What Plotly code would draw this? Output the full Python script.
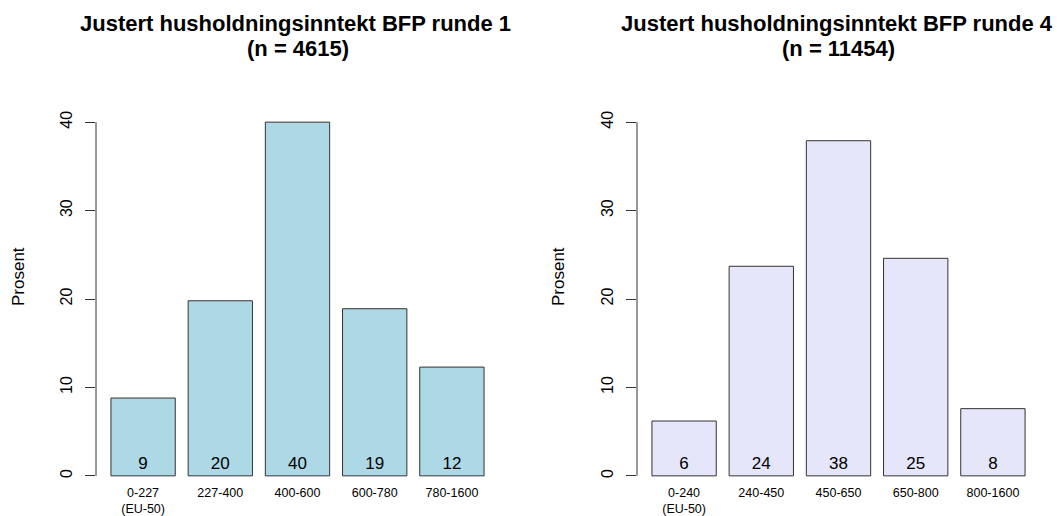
import plotly.graph_objects as go

# ---- data ----
cats_r1 = ["0-227<br>(EU-50)", "227-400", "400-600", "600-780", "780-1600"]
vals_r1 = [8.8, 19.8, 40.0, 18.9, 12.3]
cats_r4 = ["0-240<br>(EU-50)", "240-450", "450-650", "650-800", "800-1600"]
vals_r4 = [6.2, 23.7, 37.9, 24.6, 7.6]
title_r1 = ["Justert husholdningsinntekt BFP runde 1", "(n = 4615)"]
title_r4 = ["Justert husholdningsinntekt BFP runde 4", "(n = 11454)"]
y_ticks = [0, 10, 20, 30, 40]
y_label = "Prosent"

W, H = 1057, 516
FONT = "Liberation Sans, Arial, Helvetica, sans-serif"

fig = go.Figure()

def add_panel(cats, vals, color, xa, ya):
    fig.add_trace(go.Bar(
        x=cats, y=vals,
        marker=dict(color=color, line=dict(color="#333333", width=1)),
        text=[str(int(round(v))) for v in vals],
        textposition="inside", insidetextanchor="start",
        textfont=dict(family=FONT, size=17, color="black"),
        constraintext="none",
        xaxis=xa, yaxis=ya, showlegend=False, hoverinfo="skip",
    ))

add_panel(cats_r1, vals_r1, "#ADD8E6", "x", "y")
add_panel(cats_r4, vals_r4, "#E6E6FA", "x2", "y2")

ydom = [1 - 490 / H, 1 - 108 / H]
xdom1 = [96 / W, 499 / W]
xdom2 = [637 / W, 1040 / W]

xcommon = dict(range=[-0.61, 4.61], showline=False, ticks="", showgrid=False,
               zeroline=False, tickfont=dict(family=FONT, size=12.5, color="black"),
               tickangle=0, fixedrange=True, automargin=False,
               ticklabelstandoff=-7)
ycommon = dict(range=[-1.6, 41.6], domain=ydom, tickvals=y_ticks, ticks="outside",
               ticklen=10, tickcolor="#333333", tickwidth=1, showline=False,
               showgrid=False, zeroline=False, tickangle=-90, automargin=False,
               tickfont=dict(family=FONT, size=16, color="black"),
               ticklabelstandoff=7, fixedrange=True)

fig.update_layout(
    width=W, height=H, autosize=False,
    margin=dict(l=0, r=0, t=0, b=0),
    paper_bgcolor="white", plot_bgcolor="white",
    bargap=1 - 1 / 1.2,
    xaxis=dict(domain=xdom1, anchor="y", **xcommon),
    xaxis2=dict(domain=xdom2, anchor="y2", **xcommon),
    yaxis=dict(anchor="x", **ycommon),
    yaxis2=dict(anchor="x2", **ycommon),
    font=dict(family=FONT, color="black"),
)

# y-axis lines spanning only the tick range (as in base R)
for xr, yr in (("x domain", "y"), ("x2 domain", "y2")):
    fig.add_shape(type="line", xref=xr, yref=yr, x0=0, x1=0,
                  y0=min(y_ticks), y1=max(y_ticks),
                  line=dict(color="#333333", width=1))

# titles (two lines each) and y-axis labels
for lines, xd, ylab_x in ((title_r1, xdom1, 18), (title_r4, xdom2, 558)):
    for i, ln in enumerate(lines):
        fig.add_annotation(text="<b>" + ln + "</b>", xref="paper", yref="paper",
                           x=(xd[0] + xd[1]) / 2 - (2 / W if i == 0 else 0),
                           y=1 - (24 + 25 * i) / H,
                           yanchor="middle", xanchor="center", showarrow=False,
                           font=dict(family=FONT, size=22, color="black"))
    fig.add_annotation(text=y_label, xref="paper", yref="paper",
                       x=ylab_x / W, y=1 - 277 / H, textangle=-90,
                       xanchor="center", yanchor="middle", showarrow=False,
                       font=dict(family=FONT, size=17, color="black"))

fig.write_html(
    "out.html",
    config={"displayModeBar": False, "staticPlot": True},
    post_script="document.body.style.margin='0';document.body.style.overflow='hidden';",
)
